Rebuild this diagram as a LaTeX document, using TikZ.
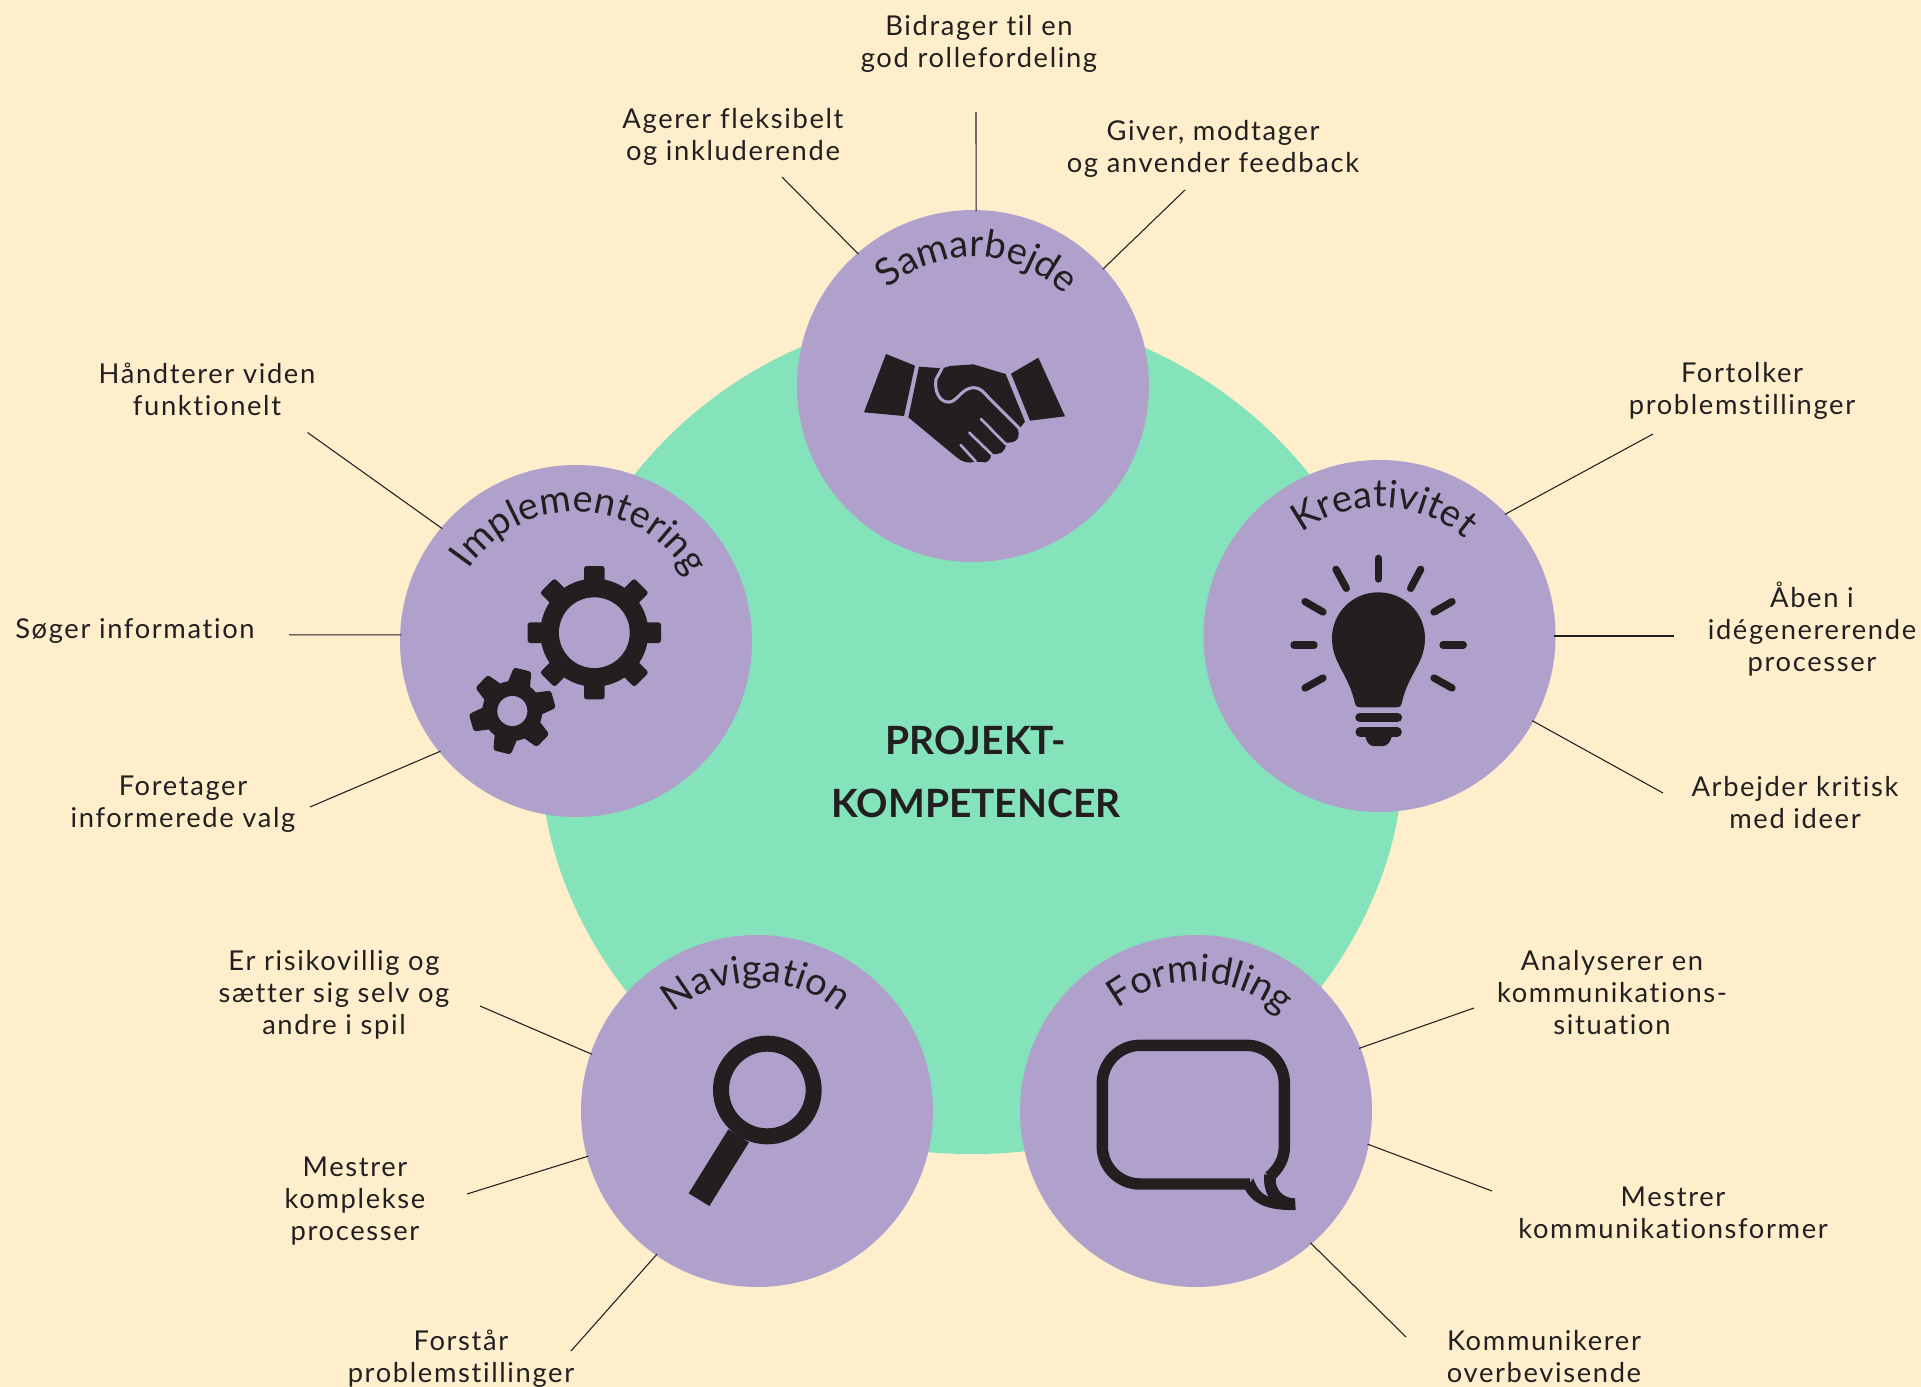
\documentclass[tikz,border=0pt]{standalone}
\usepackage{fontspec}
\setmainfont{Lato}
\newfontfamily\labfont[LetterSpace=6,Ligatures={NoCommon,NoContextual}]{Lato}
\newfontfamily\headfont{Lato}
\newfontfamily\curvefont[Ligatures={NoCommon,NoContextual}]{Lato}
\usetikzlibrary{decorations.text}
\definecolor{bgc}{HTML}{FEEECC}
\definecolor{greenc}{HTML}{84E3BB}
\definecolor{purplec}{HTML}{B0A0CC}
\definecolor{darkc}{HTML}{231F20}
\tikzset{
  comp/.style={circle,fill=purplec,inner sep=0pt,outer sep=0pt,minimum size=264pt},
  lab/.style={align=center,text=darkc,inner sep=0pt,font=\fontsize{20.5}{24}\selectfont\labfont},
  conn/.style={draw=darkc,line width=0.8pt,shorten >=-1pt},
  ink/.style={fill=darkc,draw=none},
  ray/.style={draw=darkc,line width=5.5pt,line cap=round},
  zoomed/.style={x=0.25pt,y=-0.25pt},
  curved/.style={decorate,decoration={text along path,text align={align=fit to path},text color=darkc,text={|\fontsize{28.5}{32}\selectfont\curvefont|#1}}},
}
\begin{document}
\begin{tikzpicture}[x=0.75pt,y=-0.75pt]
\useasboundingbox (0,0) rectangle (1921,1387);
\fill[bgc] (0,0) rectangle (1921,1387);
\fill[greenc] (972,312) .. controls (705,312) and (502.2,551.7) .. (546,815)
  .. controls (571,963) and (712,1154) .. (972,1154)
  .. controls (1232,1154) and (1373,963) .. (1398,815)
  .. controls (1441.8,551.7) and (1239,312) .. (972,312) -- cycle;
\node[align=center,text=darkc,inner sep=0pt,font=\fontsize{29.2}{47.5}\selectfont\headfont\bfseries] (title) at (976,772) {PROJEKT-\\KOMPETENCER};

\node[comp] (sam) at (973,386) {};
\node[comp] (kre) at (1379.5,636) {};
\node[comp] (for) at (1196,1111) {};
\node[comp] (nav) at (757,1111) {};
\node[comp] (imp) at (576,641) {};

% curved headings
\begin{scope}[shift={(973,386)},x=0.75pt,y=0.75pt]
\path[curved=Samarbejde] (134:129) arc [start angle=134,end angle=42,radius=129];
\end{scope}
\begin{scope}[shift={(1379.5,636)},x=0.75pt,y=0.75pt]
\path[curved=Kreativitet] (129:129) arc [start angle=129,end angle=47,radius=129];
\end{scope}
\begin{scope}[shift={(1196,1111)},x=0.75pt,y=0.75pt]
\path[curved=Formidling] (132:129) arc [start angle=132,end angle=44,radius=129];
\end{scope}
\begin{scope}[shift={(757,1111)},x=0.75pt,y=0.75pt]
\path[curved=Navigation] (135:129) arc [start angle=135,end angle=46,radius=129];
\end{scope}
\begin{scope}[shift={(576,641)},x=0.75pt,y=0.75pt]
\path[curved=Implementering] (148:129) arc [start angle=148,end angle=28,radius=129];
\end{scope}

% labels
\node[lab] (l1) at (979,43.5) {Bidrager til en\\god rollefordeling};
\node[lab] (l2) at (733,136.5) {Agerer fleksibelt\\og inkluderende};
\node[lab] (l3) at (1213,148.5) {Giver, modtager\\og anvender feedback};
\node[lab] (l4) at (207,389) {Håndterer viden\\funktionelt};
\node[lab] (l5) at (135,631.5) {Søger information};
\node[lab] (l6) at (183,804) {Foretager\\informerede valg};
\node[lab] (l7) at (334,995) {Er risikovillig og\\sætter sig selv og\\andre i spil};
\node[lab] (l8) at (355,1201) {Mestrer\\komplekse\\processer};
\node[lab] (l9) at (461,1359) {Forstår\\problemstillinger};
\node[lab] (l10) at (1742,391) {Fortolker\\problemstillinger};
\node[lab] (l11) at (1812,629) {Åben i\\idégenererende\\processer};
\node[lab] (l12) at (1795,803) {Arbejder kritisk\\med ideer};
\node[lab] (l13) at (1612,993) {Analyserer en\\kommunikations-\\situation};
\node[lab] (l14) at (1673,1213) {Mestrer\\kommunikationsformer};
\node[lab] (l15) at (1544,1357) {Kommunikerer\\overbevisende};

% connector free ends
\coordinate (e1) at (976,112);
\coordinate (e2) at (782,177);
\coordinate (e3) at (1185,190);
\coordinate (e4) at (307.5,432.5);
\coordinate (e5) at (289,634.86);
\coordinate (e6) at (310,807);
\coordinate (e7) at (480,1006);
\coordinate (e8) at (467,1194);
\coordinate (e9) at (571,1351);
\coordinate (e10) at (1653,434);
\coordinate (e11) at (1674,636);
\coordinate (e12) at (1663,793);
\coordinate (e13) at (1474,1008);
\coordinate (e14) at (1492,1191);
\coordinate (e15) at (1406,1337);
\draw[conn] (e1) -- (sam.89);
\draw[conn] (e2) -- (sam.131.6);
\draw[conn] (e3) -- (sam.42);
\draw[conn] (e4) -- (imp.140.3);
\draw[conn] (e5) -- (imp.178);
\draw[conn] (e6) -- (imp.219);
\draw[conn] (e7) -- (nav.161);
\draw[conn] (e8) -- (nav.195.9);
\draw[conn] (e9) -- (nav.235.4);
\draw[conn] (e10) -- (kre.44.4);
\draw[conn] (e11) -- (kre.0);
\draw[conn] (e12) -- (kre.-29.5);
\draw[conn] (e13) -- (for.21.7);
\draw[conn] (e14) -- (for.-11.8);
\draw[conn] (e15) -- (for.-49);

% handshake
\begin{scope}[shift={(840,320)},zoomed]
\fill[ink] (138,102) -- (225,137) -- (192,288) -- (72,277) -- cycle;
\fill[ink] (595,113) -- (513,161) -- (570,302) -- (675,289) -- cycle;
\fill[ink] (237,140) -- (307,145) -- (330,138) -- (400,133) -- (497,162) -- (555,305) -- (543,320) -- (532,325)
  .. controls (540,340) and (540,368) .. (505,368) -- (497,368)
  .. controls (500,395) and (480,405) .. (453,402)
  .. controls (455,418) and (440,432) .. (425,426) -- (405,425)
  .. controls (385,432) and (365,425) .. (350,412) -- (205,292) -- cycle;
\draw[draw=purplec,line width=2.3pt,line join=round] (307,143) -- (288,178)
  .. controls (282,215) and (300,250) .. (330,246)
  .. controls (355,240) and (365,205) .. (400,203)
  .. controls (420,203) and (430,215) .. (445,232) -- (538,325);
\draw[draw=purplec,line width=2pt,line cap=round] (423,297) -- (497,372);
\draw[draw=purplec,line width=2pt,line cap=round] (388,338) -- (455,403);
\draw[draw=purplec,line width=2pt,line cap=round] (362,375) -- (407,424);
\end{scope}

% gears
\begin{scope}[shift={(450,540)},zoomed]
\fill[ink] (433,278) circle [radius=162];
\foreach \a in {0,45,...,315}
  \fill[ink,rounded corners=2pt,rotate around={\a:(433,278)}] (402,78) rectangle (464,140);
\fill[purplec] (433,278) circle [radius=106];
\fill[ink] (187,513) circle [radius=90];
\foreach \a in {0,60,...,300}
  \fill[ink,rounded corners=2pt,rotate around={\a-14:(187,513)}] (160,385) -- (214,385) -- (224,450) -- (150,450) -- cycle;
\fill[purplec] (187,513) circle [radius=45];
\end{scope}

% bulb
\begin{scope}[shift={(1270,540)},zoomed]
\fill[ink] (186,295) .. controls (186,218) and (248,157) .. (325,157)
  .. controls (402,157) and (465,218) .. (465,295)
  .. controls (465,370) and (415,400) .. (395,490)
  .. controls (392,500) and (388,502) .. (380,502) -- (270,502)
  .. controls (262,502) and (258,500) .. (255,490)
  .. controls (235,400) and (186,370) .. (186,295) -- cycle;
\draw[draw=darkc,line width=7.2pt,line cap=round] (270,532) -- (382,532);
\draw[draw=darkc,line width=6.8pt,line cap=round] (270,576) -- (382,576);
\fill[ink] (285,585) -- (367,585) .. controls (362,605) and (352,618) .. (340,618) -- (310,618) .. controls (298,618) and (288,605) .. (285,585) -- cycle;
\foreach \ax/\ay/\bx/\by in {325/55/325/117,198/88/229/145,452/88/422/145,105/185/159/216,546/185/492/216,72/315/132/315,519/315/580/315,105/444/159/414,546/444/492/414}
  \draw[ray] (\ax,\ay) -- (\bx,\by);
\end{scope}

% speech bubble
\begin{scope}[shift={(1080,1020)},zoomed]
\draw[draw=darkc,line width=8.6pt] (510,492) -- (180,492)
  .. controls (118,492) and (67,442) .. (67,380) -- (67,190)
  .. controls (67,128) and (118,76) .. (180,76) -- (500,76)
  .. controls (562,76) and (613,128) .. (613,190) -- (613,380)
  .. controls (613,415) and (597,445) .. (568,470);
\fill[ink] (495,508) .. controls (520,555) and (570,572) .. (647,570) -- (645,535)
  .. controls (610,535) and (585,510) .. (587,473) -- (553,462)
  .. controls (550,490) and (555,510) .. (565,530)
  .. controls (545,522) and (530,505) .. (520,475) -- cycle;
\end{scope}

% magnifier
\begin{scope}[shift={(660,1020)},zoomed]
\draw[draw=darkc,line width=12pt] (322,210) circle [radius=139];
\fill[ink] (205,328) -- (267,367) -- (148,558) -- (86,520) -- cycle;
\end{scope}
\end{tikzpicture}
\end{document}
